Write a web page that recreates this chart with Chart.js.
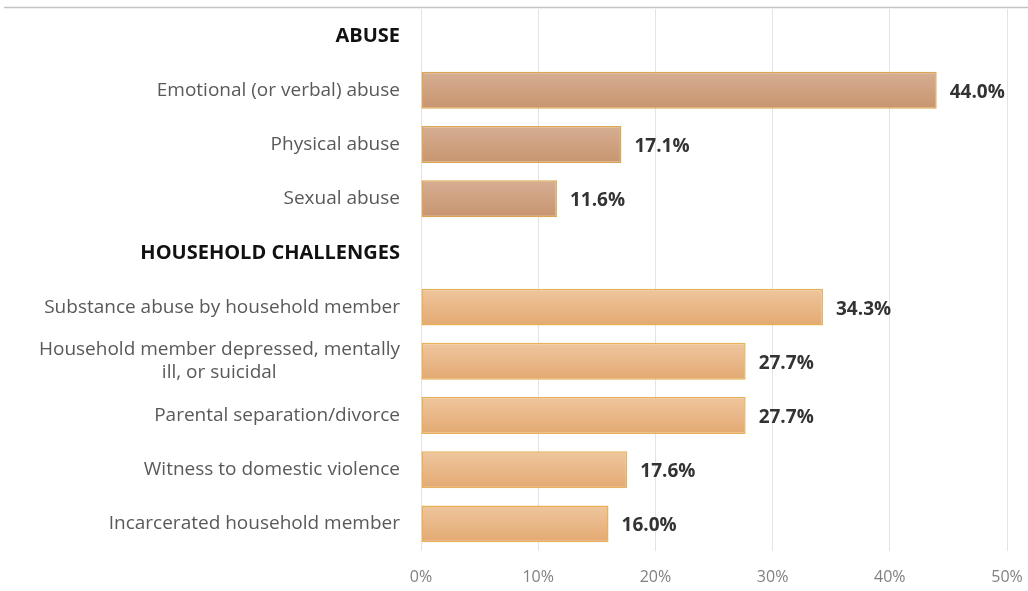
<!DOCTYPE html>
<html lang="en">
<head>
    <meta charset="UTF-8">
    <title>Adverse Childhood Experiences</title>
    <script src="https://cdn.jsdelivr.net/npm/chart.js"></script>
    <style>
        html, body {
            margin: 0;
            padding: 0;
            background: #fff;
        }
        .wrap {
            width: 1028px;
            height: 591px;
            position: relative;
        }
    </style>
</head>
<body>

<div class="wrap">
    <canvas id="aceChart" width="1028" height="591"></canvas>
</div>

<script>
    // rows of the chart, headers included (they carry no value)
    const categories = [
        'ABUSE',
        'Emotional (or verbal) abuse',
        'Physical abuse',
        'Sexual abuse',
        'HOUSEHOLD CHALLENGES',
        'Substance abuse by household member',
        ['Household member depressed, mentally', 'ill, or suicidal'],
        'Parental separation/divorce',
        'Witness to domestic violence',
        'Incarcerated household member'
    ];
    const values = [null, 44.0, 17.1, 11.6, null, 34.3, 27.7, 27.7, 17.6, 16.0];
    const groups = ['header', 'abuse', 'abuse', 'abuse', 'header',
        'household', 'household', 'household', 'household', 'household'];
    const xTicks = [0, 10, 20, 30, 40, 50];

    const FONT = '"Open Sans", sans-serif';
    const LABEL_SIZE = 19;
    const fills = {
        abuse: ['#d6ae93', '#c8956f'],
        household: ['#efc69e', '#e3a972']
    };
    const borders = { abuse: '#dea654', household: '#e9b05a' };

    // right-aligned multi-line labels: pad the short line so it sits centred
    const measure = document.createElement('canvas').getContext('2d');
    function centerLines(lines) {
        measure.font = LABEL_SIZE + 'px ' + FONT;
        const widths = lines.map(l => measure.measureText(l).width);
        const maxW = Math.max(...widths);
        const sp = measure.measureText(' ').width;
        return lines.map((l, i) => l + ' '.repeat(Math.round((maxW - widths[i]) / 2 / sp)));
    }

    function barFill(ctx) {
        const g = groups[ctx.dataIndex];
        const chart = ctx.chart;
        const ys = chart.scales.y;
        if (!ys || !chart.chartArea || g === 'header') return fills.household[1];
        const cy = ys.getPixelForValue(ctx.dataIndex);
        const half = (ys.getPixelForValue(1) - ys.getPixelForValue(0)) * 0.68 / 2;
        const grad = chart.ctx.createLinearGradient(0, cy - half, 0, cy + half);
        grad.addColorStop(0, fills[g][0]);
        grad.addColorStop(1, fills[g][1]);
        return grad;
    }

    function noPad(scale) {
        scale.paddingTop = 0;
        scale.paddingBottom = 0;
        scale.paddingLeft = 0;
        scale.paddingRight = 0;
    }

    const topRule = {
        id: 'topRule',
        beforeDraw(chart) {
            const c = chart.ctx;
            c.save();
            c.strokeStyle = '#c3c3c3';
            c.lineWidth = 1.5;
            c.beginPath();
            c.moveTo(4, 7.5);
            c.lineTo(chart.width, 7.5);
            c.stroke();
            c.restore();
        }
    };

    const valueLabels = {
        id: 'valueLabels',
        afterDatasetsDraw(chart) {
            const c = chart.ctx;
            const meta = chart.getDatasetMeta(0);
            c.save();
            c.font = 'bold 19px ' + FONT;
            c.fillStyle = '#333333';
            c.textAlign = 'left';
            c.textBaseline = 'middle';
            meta.data.forEach((bar, i) => {
                if (values[i] === null) return;
                c.fillText(values[i].toFixed(1) + '%', bar.x + 13, bar.y + 2);
            });
            c.restore();
        }
    };

    new Chart(document.getElementById('aceChart'), {
        type: 'bar',
        data: {
            labels: categories,
            datasets: [{
                data: values,
                backgroundColor: barFill,
                borderColor: ctx => borders[groups[ctx.dataIndex]] || '#e9b05a',
                borderWidth: 1.5,
                borderSkipped: false,
                barPercentage: 0.68,
                categoryPercentage: 1.0
            }]
        },
        options: {
            indexAxis: 'y',
            responsive: false,
            animation: false,
            layout: { padding: { top: 9, right: 21, left: 0, bottom: 0 } },
            plugins: {
                legend: { display: false },
                tooltip: { enabled: false }
            },
            scales: {
                x: {
                    min: 0,
                    max: 50,
                    afterBuildTicks: scale => {
                        scale.ticks = xTicks.map(v => ({ value: v }));
                    },
                    afterFit: scale => { scale.height = 40; noPad(scale); },
                    border: { display: false },
                    grid: { color: '#e3e3e3', lineWidth: 1, drawTicks: false },
                    ticks: {
                        padding: 17,
                        color: '#808080',
                        font: { family: FONT, size: 16 },
                        callback: v => v + '%'
                    }
                },
                y: {
                    afterFit: scale => { scale.width = 421; noPad(scale); },
                    border: { display: false },
                    grid: { display: false, drawTicks: false },
                    ticks: {
                        padding: 21,
                        autoSkip: false,
                        color: ctx => groups[ctx.index] === 'header' ? '#111111' : '#595959',
                        font: ctx => ({
                            family: FONT,
                            size: groups[ctx.index] === 'header' ? 20 : LABEL_SIZE,
                            weight: groups[ctx.index] === 'header' ? 'bold' : 'normal',
                            lineHeight: 1.2
                        }),
                        callback: function (v, i) {
                            const lab = categories[i];
                            return Array.isArray(lab) ? centerLines(lab) : lab;
                        }
                    }
                }
            }
        },
        plugins: [topRule, valueLabels]
    });
</script>

</body>
</html>
